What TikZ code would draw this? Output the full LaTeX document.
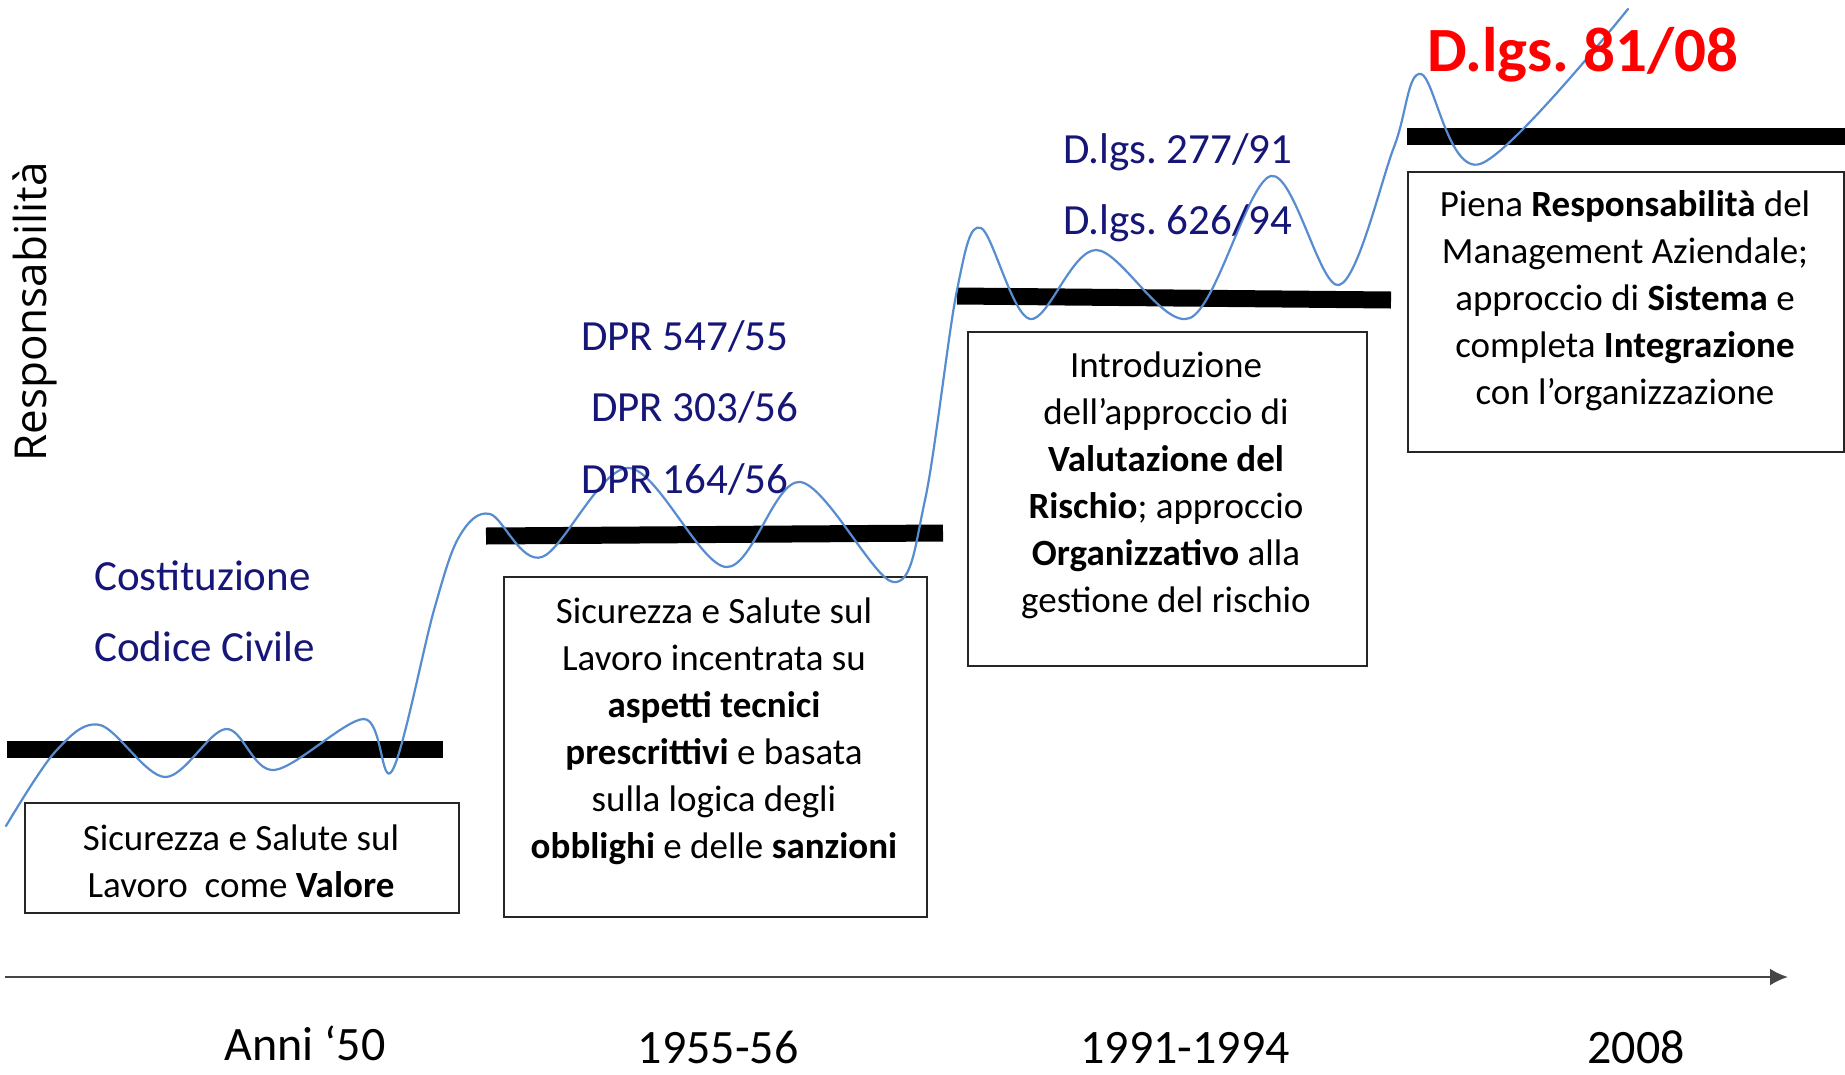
\documentclass[tikz,border=0pt]{standalone}
\usepackage{fontspec}
\setmainfont{Carlito}
\newfontfamily\osans{Open Sans}
\usetikzlibrary{arrows.meta}
\definecolor{navy}{RGB}{22,22,120}
\definecolor{wave}{RGB}{88,140,208}
\definecolor{axisgray}{RGB}{70,70,70}
\definecolor{lawred}{RGB}{255,0,0}
\frenchspacing
\tikzset{
  levelbar/.style={line width=17pt, black},
  infobox/.style={draw=black!85, line width=1.8pt, rectangle, inner sep=0pt, anchor=north west},
  boxtext/.style={align=center, inner sep=0pt, font=\fontsize{37}{47}\selectfont},
  law/.style={text=navy, inner sep=0pt, anchor=base west, font=\fontsize{43}{50}\selectfont},
  year/.style={inner sep=0pt, anchor=base, font=\fontsize{48}{56}\selectfont},
}
\begin{document}
\begin{tikzpicture}[x=1pt,y=-1pt]
\useasboundingbox[fill=white] (0,0) rectangle (1845,1074);

% boxes
\node[infobox, minimum width=434pt, minimum height=110pt] (b1) at (24,802) {};
\node[infobox, minimum width=423pt, minimum height=340pt] (b2) at (503,576) {};
\node[infobox, minimum width=399pt, minimum height=334pt] (b3) at (967,331) {};
\node[infobox, minimum width=436pt, minimum height=280pt] (b4) at (1407,171) {};

% level bars
\coordinate (l1a) at (7,749);   \coordinate (l1b) at (443,749);
\coordinate (l2a) at (486,536); \coordinate (l2b) at (943,533);
\coordinate (l3a) at (957,296); \coordinate (l3b) at (1391,300);
\coordinate (l4a) at (1407,136); \coordinate (l4b) at (1845,136);
\draw[levelbar] (l1a) -- (l1b);
\draw[levelbar] (l2a) -- (l2b);
\draw[levelbar] (l3a) -- (l3b);
\draw[levelbar] (l4a) -- (l4b);

% wave
\draw[wave, line width=2.2pt, line cap=round] plot[smooth, tension=0.55] coordinates {
 (6,826) (55,752) (100,725) (165,777) (226,729) (274,770) (364,719) (392,771)
 (434,610) (459,537) (490,514) (542,557) (629,468) (726,567) (800,482) (893,582)
 (925,500) (957,290) (981,228) (1030,319) (1096,250) (1190,318) (1271,176) (1339,285)
 (1394,147) (1421,74) (1480,164) (1628,9)};

% box texts
\node[boxtext] (t1) at (241,861) {Sicurezza e Salute sul\\Lavoro\ \ come \textbf{Valore}};
\node[boxtext] (t2) at (714,731) {Sicurezza e Salute sul\\Lavoro incentrata su\\\textbf{aspetti tecnici}\\\textbf{prescrittivi} e basata\\sulla logica degli\\\textbf{obblighi} e delle \textbf{sanzioni}};
\node[boxtext] (t3) at (1166,485) {Introduzione\\dell’approccio di\\\textbf{Valutazione del}\\\textbf{Rischio}; approccio\\\textbf{Organizzativo} alla\\gestione del rischio};
\node[boxtext] (t4) at (1625,301) {Piena \textbf{Responsabilità} del\\Management Aziendale;\\approccio di \textbf{Sistema} e\\completa \textbf{Integrazione}\\con l’organizzazione};

% law labels
\node[law] (cost) at (94,590) {Costituzione};
\node[law] (cc) at (94,661) {Codice Civile};
\node[law] (dpr1) at (581,350) {DPR 547/55};
\node[law] (dpr2) at (591,421) {DPR 303/56};
\node[law] (dpr3) at (581,493) {DPR 164/56};
\node[law] (dl1) at (1063,163) {D.lgs. 277/91};
\node[law] (dl2) at (1063,234) {D.lgs. 626/94};
\node[inner sep=0pt, anchor=base west, text=lawred, font=\fontsize{63}{70}\selectfont\bfseries] (dl3) at (1427,71) {D.lgs. 81/08};

% axis
\coordinate (ax0) at (5,977);
\coordinate (ax1) at (1788,977);
\draw[axisgray, line width=2.5pt, -{Latex[length=18pt,width=17pt]}] (ax0) -- (ax1);

% years
\node[year] (y1) at (305,1060) {Anni ‘50};
\node[year] (y2) at (718,1063) {1955-56};
\node[year] (y3) at (1185,1063) {1991-1994};
\node[year] (y4) at (1636,1063) {2008};

% vertical axis label
\node[inner sep=0pt, rotate=90, font=\osans\fontsize{44}{50}\selectfont] (resp) at (35,312) {Responsabilità};
\end{tikzpicture}
\end{document}
